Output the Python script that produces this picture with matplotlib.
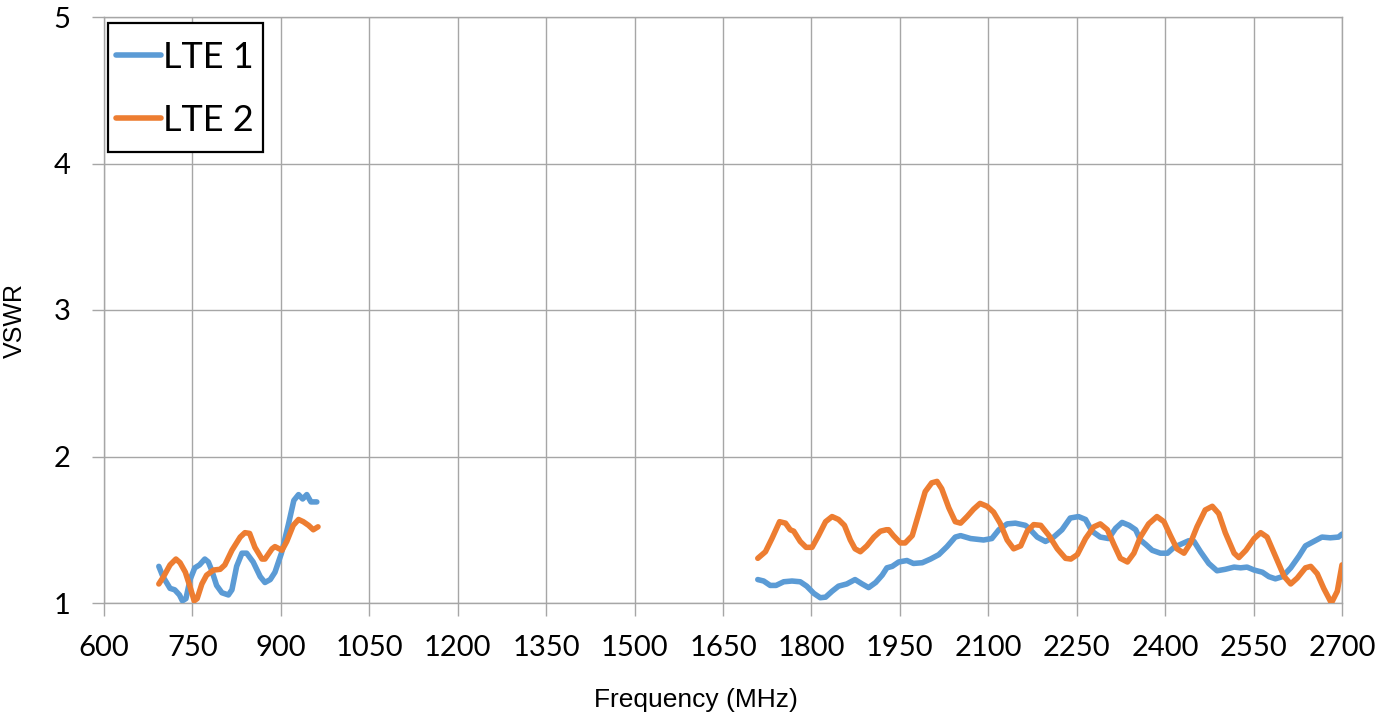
import matplotlib
matplotlib.use("Agg")
import matplotlib.pyplot as plt
from matplotlib.patches import Rectangle
import numpy as np

# ---- data ----
lte1_low_freq = [693, 700, 712, 720, 728, 733, 739, 746, 754, 762, 771, 777, 783, 791, 800, 811, 817,
                 825, 834, 842, 853, 865, 873, 882, 890, 901, 913, 922, 930, 937, 944, 951, 961]
lte1_low_vswr = [1.25, 1.18, 1.10, 1.09, 1.055, 1.015, 1.03, 1.16, 1.24, 1.26, 1.30, 1.28, 1.22, 1.12,
                 1.07, 1.055, 1.09, 1.25, 1.34, 1.34, 1.28, 1.18, 1.14, 1.16, 1.21, 1.34, 1.54, 1.70,
                 1.74, 1.71, 1.74, 1.69, 1.69]

lte2_low_freq = [693, 701, 712, 722, 729, 738, 746, 753, 758, 766, 774, 786, 797, 805, 817, 831, 839,
                 847, 856, 868, 873, 885, 890, 902, 910, 921, 930, 938, 947, 955, 963]
lte2_low_vswr = [1.13, 1.18, 1.26, 1.30, 1.275, 1.21, 1.11, 1.015, 1.03, 1.13, 1.19, 1.225, 1.23, 1.26,
                 1.36, 1.45, 1.48, 1.475, 1.38, 1.30, 1.30, 1.37, 1.385, 1.36, 1.42, 1.53, 1.57, 1.555,
                 1.53, 1.50, 1.52]

lte1_high_freq = [1709, 1719, 1730, 1740, 1753, 1767, 1781, 1792, 1804, 1815, 1824, 1835, 1846, 1860,
                  1874, 1886, 1897, 1909, 1920, 1928, 1937, 1948, 1962, 1973, 1988, 2002, 2016, 2030,
                  2044, 2053, 2070, 2092, 2106, 2118, 2132, 2146, 2163, 2169, 2183, 2197, 2211, 2225,
                  2239, 2253, 2265, 2276, 2290, 2304, 2316, 2327, 2339, 2350, 2358, 2367, 2378, 2392,
                  2404, 2415, 2426, 2440, 2449, 2460, 2474, 2488, 2502, 2517, 2528, 2539, 2551, 2565,
                  2576, 2587, 2599, 2613, 2627, 2638, 2652, 2666, 2680, 2694, 2700]
lte1_high_vswr = [1.16, 1.15, 1.12, 1.12, 1.145, 1.15, 1.145, 1.115, 1.066, 1.036, 1.04, 1.08, 1.115,
                  1.13, 1.16, 1.13, 1.105, 1.14, 1.19, 1.24, 1.25, 1.28, 1.29, 1.27, 1.275, 1.30, 1.33,
                  1.385, 1.45, 1.46, 1.44, 1.43, 1.44, 1.50, 1.54, 1.545, 1.53, 1.51, 1.45, 1.42, 1.45,
                  1.50, 1.58, 1.59, 1.57, 1.49, 1.45, 1.44, 1.51, 1.55, 1.53, 1.50, 1.43, 1.40, 1.36,
                  1.34, 1.34, 1.38, 1.40, 1.425, 1.42, 1.35, 1.27, 1.22, 1.23, 1.245, 1.24, 1.245,
                  1.225, 1.21, 1.18, 1.165, 1.18, 1.24, 1.32, 1.39, 1.42, 1.45, 1.445, 1.45, 1.47]

lte2_high_freq = [1709, 1722, 1733, 1746, 1756, 1764, 1770, 1781, 1791, 1801, 1812, 1824, 1835, 1846,
                  1856, 1866, 1874, 1883, 1894, 1906, 1917, 1927, 1931, 1939, 1951, 1959, 1971, 1982,
                  1993, 2004, 2013, 2021, 2033, 2044, 2053, 2064, 2075, 2086, 2098, 2109, 2120, 2132,
                  2143, 2155, 2166, 2177, 2189, 2203, 2217, 2231, 2240, 2251, 2265, 2279, 2290, 2302,
                  2313, 2324, 2336, 2347, 2358, 2372, 2386, 2398, 2409, 2420, 2432, 2443, 2454, 2468,
                  2480, 2491, 2502, 2517, 2525, 2537, 2551, 2562, 2573, 2587, 2602, 2613, 2624, 2638,
                  2647, 2658, 2669, 2682, 2692, 2700]
lte2_high_vswr = [1.305, 1.35, 1.44, 1.555, 1.545, 1.50, 1.49, 1.42, 1.38, 1.38, 1.46, 1.555, 1.59, 1.57,
                  1.53, 1.43, 1.37, 1.35, 1.39, 1.45, 1.49, 1.50, 1.50, 1.46, 1.41, 1.41, 1.46, 1.61,
                  1.76, 1.82, 1.83, 1.78, 1.65, 1.555, 1.545, 1.59, 1.64, 1.68, 1.66, 1.62, 1.545, 1.43,
                  1.37, 1.39, 1.49, 1.535, 1.53, 1.46, 1.37, 1.305, 1.30, 1.33, 1.44, 1.52, 1.54, 1.50,
                  1.40, 1.305, 1.28, 1.34, 1.45, 1.54, 1.59, 1.555, 1.46, 1.37, 1.34, 1.41, 1.52, 1.635,
                  1.66, 1.61, 1.48, 1.34, 1.31, 1.36, 1.44, 1.48, 1.45, 1.32, 1.18, 1.13, 1.17, 1.24,
                  1.25, 1.20, 1.10, 1.00, 1.08, 1.26]

x_ticks = list(range(600, 2701, 150))
y_ticks = [1, 2, 3, 4, 5]
series_names = ["LTE 1", "LTE 2"]
colors = ["#5B9BD5", "#ED7D31"]

# ---- figure ----
W, H = 1396, 719
fig = plt.figure(figsize=(W / 100, H / 100), dpi=100)
ax = fig.add_axes([104 / W, (H - 603) / H, (1342 - 104) / W, (603 - 17) / H])

lw = 4.0
style = dict(lw=lw, solid_joinstyle="round", solid_capstyle="round")
l1, = ax.plot(lte1_low_freq, lte1_low_vswr, color=colors[0], label=series_names[0], zorder=3, **style)
ax.plot(lte1_high_freq, lte1_high_vswr, color=colors[0], zorder=3, **style)
l2, = ax.plot(lte2_low_freq, lte2_low_vswr, color=colors[1], label=series_names[1], zorder=4, **style)
ax.plot(lte2_high_freq, lte2_high_vswr, color=colors[1], zorder=4, **style)

ax.set_xlim(600, 2700)
ax.set_ylim(1, 5)
ax.set_xticks(x_ticks)
ax.set_yticks(y_ticks)
ax.grid(True, color="#A6A6A6", lw=1.0)
ax.set_axisbelow(True)
for s in ax.spines.values():
    s.set_color("#A6A6A6")
    s.set_linewidth(1.0)

ax.tick_params(axis="both", colors="#A6A6A6", length=9, width=1.0, labelcolor="black")
ax.tick_params(axis="x", pad=14)
ax.tick_params(axis="y", pad=15)
for lab in ax.get_xticklabels() + ax.get_yticklabels():
    lab.set_fontfamily("Lato")
    lab.set_fontsize(21)

ax.set_xlabel("Frequency (MHz)", fontsize=19, family="Liberation Sans")
ax.xaxis.set_label_coords((696 - 104) / 1238, -(688 - 603) / 586)
ax.set_ylabel("VSWR", fontsize=18, family="Liberation Sans")
ax.yaxis.set_label_coords(-(104 - 27) / 1238, (603 - 321) / 586)

# legend box (frame drawn separately so its padding can match the reference)
frame = Rectangle((108 / W, 1 - 152 / H), 155 / W, 129 / H, transform=fig.transFigure,
                  facecolor="white", edgecolor="black", lw=1.6, zorder=4)
fig.add_artist(frame)
leg = fig.legend(handles=[l1, l2], loc="upper left", bbox_to_anchor=(116 / W, 1 - 41 / H),
                 bbox_transform=fig.transFigure, borderaxespad=0, borderpad=0,
                 prop={"family": "Lato", "size": 26}, frameon=False,
                 handlelength=1.25, handletextpad=0.05, labelspacing=0.82)
leg.set_zorder(5)

fig.savefig("out.png", dpi=100)
